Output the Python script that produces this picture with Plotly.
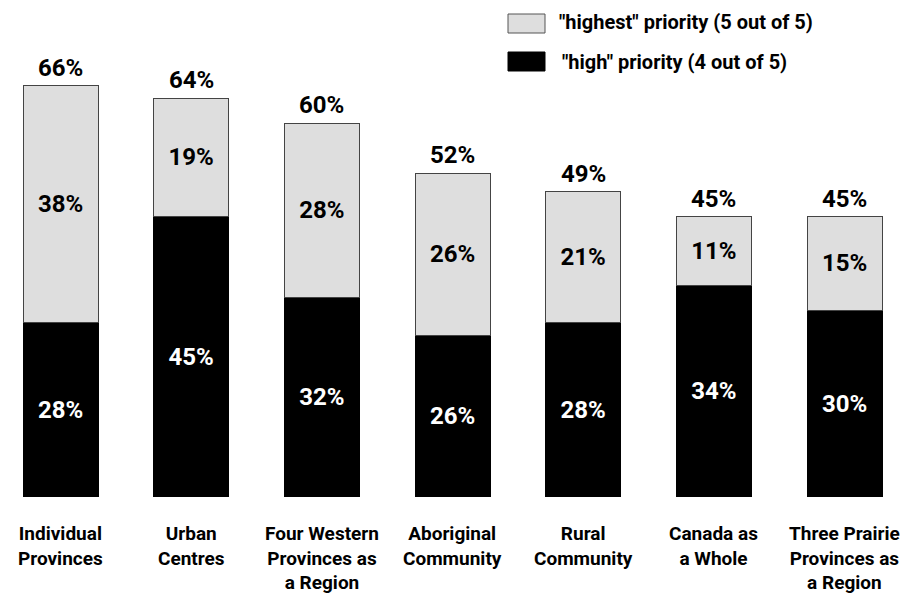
import plotly.graph_objects as go

categories = ["Individual<br>Provinces", "Urban<br>Centres", "Four Western<br>Provinces as<br>a Region",
              "Aboriginal<br>Community", "Rural<br>Community", "Canada as<br>a Whole",
              "Three Prairie<br>Provinces as<br>a Region"]
high = [28, 45, 32, 26, 28, 34, 30]
highest = [38, 19, 28, 26, 21, 11, 15]
totals = [66, 64, 60, 52, 49, 45, 45]

FONT = "Roboto"
W = "bold"
x = list(range(len(categories)))

OFF = 8  # page body offset
PH = 489  # plot height in px


def px(sx):
    return (sx - OFF) / 914


def py(sy):
    return 1 - (sy - OFF) / PH


fig = go.Figure()
fig.add_trace(go.Bar(x=x, y=high, name='"high" priority (4 out of 5)',
                     marker=dict(color="#000000", line=dict(color="#000000", width=1)),
                     text=[f"{v}%" for v in high], textposition="inside", insidetextanchor="middle",
                     textfont=dict(color="white", size=24, family=FONT, weight=W), width=0.574,
                     showlegend=False, hoverinfo="skip"))
fig.add_trace(go.Bar(x=x, y=highest, name='"highest" priority (5 out of 5)',
                     marker=dict(color="#dedede", line=dict(color="#444444", width=1)),
                     text=[f"{v}%" for v in highest], textposition="inside", insidetextanchor="middle",
                     textfont=dict(color="black", size=24, family=FONT, weight=W), width=0.574,
                     showlegend=False, hoverinfo="skip"))

for i, t in enumerate(totals):
    fig.add_annotation(x=i, y=t, text=f"{t}%", showarrow=False, yanchor="bottom",
                       yshift=2, font=dict(size=24, color="black", family=FONT, weight=W))

for i, c in enumerate(categories):
    fig.add_annotation(x=i, y=0, text=c, showarrow=False, yanchor="top",
                       yshift=-23, font=dict(size=19, color="black", family=FONT, weight=W))

# legend drawn manually
fig.add_shape(type="rect", xref="paper", yref="paper", x0=px(508), x1=px(545),
              y0=py(33), y1=py(14), fillcolor="#dedede", line=dict(color="#555555", width=1))
fig.add_shape(type="rect", xref="paper", yref="paper", x0=px(508), x1=px(545),
              y0=py(71), y1=py(52), fillcolor="#000000", line=dict(color="#000000", width=1))
fig.add_annotation(xref="paper", yref="paper", x=px(557), y=py(22), xanchor="left", yanchor="middle",
                   text='"highest" priority (5 out of 5)', showarrow=False,
                   font=dict(size=20, color="black", family=FONT, weight=W))
fig.add_annotation(xref="paper", yref="paper", x=px(560), y=py(62), xanchor="left", yanchor="middle",
                   text='"high" priority (4 out of 5)', showarrow=False,
                   font=dict(size=20, color="black", family=FONT, weight=W))

fig.update_layout(
    barmode="stack", width=914, height=600,
    margin=dict(l=0, r=0, t=0, b=600 - PH),
    plot_bgcolor="white", paper_bgcolor="white",
    font=dict(family=FONT, size=20, color="black"),
    uniformtext=dict(minsize=24, mode="show"),
    xaxis=dict(range=[-0.402, 6.593], showticklabels=False, showgrid=False, zeroline=False,
               showline=False, ticks=""),
    yaxis=dict(range=[0, PH / 6.23], visible=False),
)
fig.write_html("out.html")
